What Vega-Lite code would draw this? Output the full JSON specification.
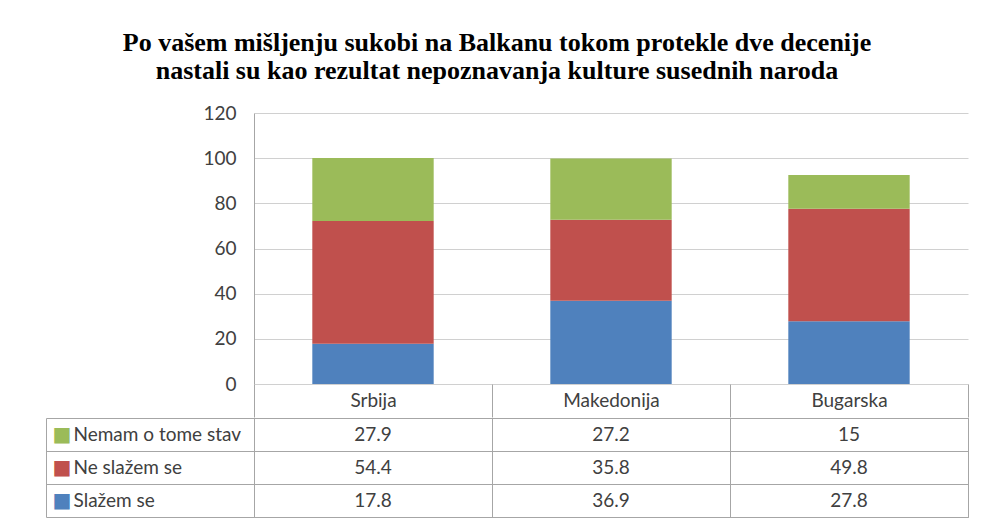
{
  "$schema": "https://vega.github.io/schema/vega-lite/v6.json",
  "background": "white",
  "padding": {"left": 45, "top": 30, "right": 15, "bottom": 3},
  "spacing": -11,
  "title": {
    "text": ["Po vašem mišljenju sukobi na Balkanu tokom protekle dve decenije", "nastali su kao rezultat nepoznavanja kulture susednih naroda"],
    "font": "Liberation Serif",
    "fontSize": 26,
    "fontWeight": "bold",
    "lineHeight": 28,
    "color": "#000000",
    "anchor": "middle",
    "frame": "group",
    "offset": 20,
    "dx": -114
  },
  "datasets": {
    "ankete": [
      {"drzava": "Srbija", "stav": "Slažem se", "rb": 1, "vrednost": 17.8},
      {"drzava": "Srbija", "stav": "Ne slažem se", "rb": 2, "vrednost": 54.4},
      {"drzava": "Srbija", "stav": "Nemam o tome stav", "rb": 3, "vrednost": 27.9},
      {"drzava": "Makedonija", "stav": "Slažem se", "rb": 1, "vrednost": 36.9},
      {"drzava": "Makedonija", "stav": "Ne slažem se", "rb": 2, "vrednost": 35.8},
      {"drzava": "Makedonija", "stav": "Nemam o tome stav", "rb": 3, "vrednost": 27.2},
      {"drzava": "Bugarska", "stav": "Slažem se", "rb": 1, "vrednost": 27.8},
      {"drzava": "Bugarska", "stav": "Ne slažem se", "rb": 2, "vrednost": 49.8},
      {"drzava": "Bugarska", "stav": "Nemam o tome stav", "rb": 3, "vrednost": 15}
    ]
  },
  "config": {
    "view": {"stroke": null},
    "axis": {"labelFont": "Lato", "labelFontSize": 19, "labelColor": "#404040"}
  },
  "vconcat": [
    {
      "width": 714,
      "height": 271,
      "data": {"name": "ankete"},
      "mark": {"type": "bar", "width": {"band": 0.51}},
      "encoding": {
        "x": {
          "field": "drzava",
          "type": "nominal",
          "sort": ["Srbija", "Makedonija", "Bugarska"],
          "scale": {"paddingInner": 0, "paddingOuter": 0},
          "axis": {
            "title": null,
            "orient": "bottom",
            "domain": false,
            "grid": false,
            "ticks": true,
            "tickBand": "extent",
            "tickSize": 33,
            "tickColor": "#a6a6a6",
            "labelAngle": 0,
            "labelPadding": -17,
            "labelBaseline": "middle"
          }
        },
        "y": {
          "field": "vrednost",
          "type": "quantitative",
          "stack": "zero",
          "scale": {"domain": [0, 120], "nice": false},
          "axis": {
            "title": null,
            "values": [0, 20, 40, 60, 80, 100, 120],
            "grid": true,
            "gridColor": "#d0d0d0",
            "domain": true,
            "domainColor": "#a6a6a6",
            "ticks": false,
            "labelPadding": 18
          }
        },
        "color": {
          "field": "stav",
          "type": "nominal",
          "scale": {"domain": ["Slažem se", "Ne slažem se", "Nemam o tome stav"], "range": ["#4F81BD", "#C0504D", "#9BBB59"]},
          "legend": null
        },
        "order": {"field": "rb", "type": "quantitative"}
      }
    },
    {
      "width": 714,
      "height": 99,
      "data": {"name": "ankete"},
      "view": {"stroke": "#a6a6a6"},
      "layer": [
        {
          "mark": {"type": "text", "font": "Lato", "fontSize": 19, "color": "#404040"},
          "encoding": {
            "x": {
              "field": "drzava",
              "type": "nominal",
              "sort": ["Srbija", "Makedonija", "Bugarska"],
              "scale": {"paddingInner": 0, "paddingOuter": 0},
              "axis": {
                "title": null,
                "labels": false,
                "ticks": false,
                "domain": false,
                "grid": true,
                "tickBand": "extent",
                "gridColor": "#a6a6a6",
                "gridOpacity": 1
              }
            },
            "y": {
              "field": "stav",
              "type": "nominal",
              "sort": ["Nemam o tome stav", "Ne slažem se", "Slažem se"],
              "scale": {"paddingInner": 0, "paddingOuter": 0},
              "axis": {
                "title": null,
                "orient": "left",
                "domain": false,
                "ticks": true,
                "tickBand": "extent",
                "tickSize": 208,
                "tickColor": "#a6a6a6",
                "grid": true,
                "gridColor": "#a6a6a6",
                "gridOpacity": 1,
                "labelAlign": "left",
                "labelPadding": -27,
                "labelBaseline": "middle"
              }
            },
            "text": {"field": "vrednost", "type": "quantitative"}
          }
        },
        {
          "mark": {"type": "text", "opacity": 0},
          "encoding": {
            "y": {
              "field": "stav",
              "type": "nominal",
              "sort": ["Nemam o tome stav", "Ne slažem se", "Slažem se"],
              "axis": {
                "title": null,
                "orient": "left",
                "offset": 208,
                "domain": true,
                "domainColor": "#a6a6a6",
                "ticks": false,
                "grid": false,
                "labelExpr": "'■'",
                "labelFont": "DejaVu Sans",
                "labelFontSize": 20,
                "labelAlign": "left",
                "labelPadding": -6,
                "labelBaseline": "middle",
                "labelColor": {"expr": "datum.value == 'Nemam o tome stav' ? '#9BBB59' : datum.value == 'Ne slažem se' ? '#C0504D' : '#4F81BD'"}
              }
            },
            "text": {"value": ""}
          }
        }
      ],
      "resolve": {"axis": {"y": "independent"}}
    }
  ]
}
